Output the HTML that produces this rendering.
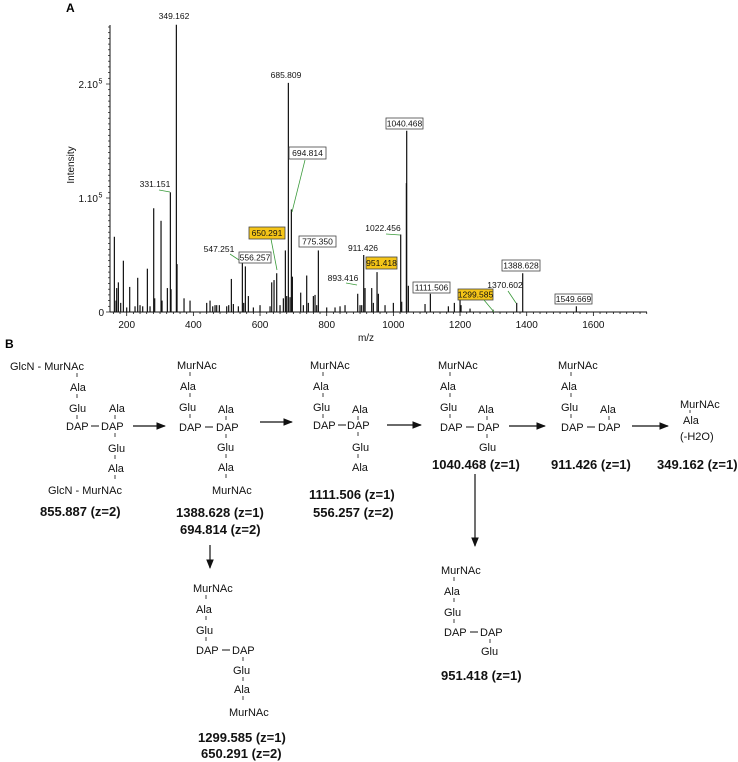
<!DOCTYPE html>
<html><head><meta charset="utf-8"><style>
html,body{margin:0;padding:0;background:#fff}
svg{display:block;font-family:"Liberation Sans",Arial,sans-serif}
.s{font-size:11px;fill:#111}
.b{font-size:13px;font-weight:bold;fill:#111}
.l{font-size:8.5px;fill:#111}
.t{font-size:10px;fill:#111}
</style></head><body>
<svg id="fig" width="738" height="762" viewBox="0 0 738 762">
<text x="66" y="12" font-weight="bold" font-size="12">A</text>
<g id="chart"></g>
<g id="ann">
<text class="l" x="174" y="19" text-anchor="middle">349.162</text>
<text class="l" x="286" y="78" text-anchor="middle">685.809</text>
<rect x="289" y="147" width="37" height="12" fill="#fff" stroke="#444" stroke-width="0.8"/><text class="l" x="307.5" y="156" text-anchor="middle">694.814</text>
<polyline points="305,160 292,212" fill="none" stroke="#3a9a3a" stroke-width="0.8"/>
<text class="l" x="155" y="187" text-anchor="middle">331.151</text>
<polyline points="159,190 170,192" fill="none" stroke="#3a9a3a" stroke-width="0.8"/>
<rect x="249" y="227" width="36" height="12" fill="#f5c518" stroke="#444" stroke-width="0.8"/><text class="l" x="267" y="236" text-anchor="middle">650.291</text>
<polyline points="271,239 277,270" fill="none" stroke="#3a9a3a" stroke-width="0.8"/>
<text class="l" x="219" y="252" text-anchor="middle">547.251</text>
<polyline points="230,254 242,262" fill="none" stroke="#3a9a3a" stroke-width="0.8"/>
<rect x="239" y="252" width="32" height="11" fill="#fff" stroke="#444" stroke-width="0.8"/><text class="l" x="255" y="260.5" text-anchor="middle">556.257</text>
<rect x="299" y="236" width="37" height="11" fill="#fff" stroke="#444" stroke-width="0.8"/><text class="l" x="317.5" y="244.5" text-anchor="middle">775.350</text>
<text class="l" x="363" y="251" text-anchor="middle">911.426</text>
<text class="l" x="343" y="281" text-anchor="middle">893.416</text>
<polyline points="346,283 357,285" fill="none" stroke="#3a9a3a" stroke-width="0.8"/>
<rect x="366" y="257" width="31" height="12" fill="#f5c518" stroke="#444" stroke-width="0.8"/><text class="l" x="381.5" y="266" text-anchor="middle">951.418</text>
<text class="l" x="383" y="231" text-anchor="middle">1022.456</text>
<polyline points="386,234 400,235" fill="none" stroke="#3a9a3a" stroke-width="0.8"/>
<rect x="386" y="118" width="37" height="11" fill="#fff" stroke="#444" stroke-width="0.8"/><text class="l" x="404.5" y="126.5" text-anchor="middle">1040.468</text>
<rect x="413" y="282" width="37" height="11" fill="#fff" stroke="#444" stroke-width="0.8"/><text class="l" x="431.5" y="290.5" text-anchor="middle">1111.506</text>
<rect x="458" y="289" width="35" height="11" fill="#f5c518" stroke="#444" stroke-width="0.8"/><text class="l" x="475.5" y="297.5" text-anchor="middle">1299.585</text>
<polyline points="484,300 494,312" fill="none" stroke="#3a9a3a" stroke-width="0.8"/>
<text class="l" x="505" y="288" text-anchor="middle">1370.602</text>
<polyline points="508,291 516,303" fill="none" stroke="#3a9a3a" stroke-width="0.8"/>
<rect x="502" y="260" width="38" height="11" fill="#fff" stroke="#444" stroke-width="0.8"/><text class="l" x="521" y="268.5" text-anchor="middle">1388.628</text>
<rect x="555" y="294" width="37" height="10" fill="#fff" stroke="#444" stroke-width="0.8"/><text class="l" x="573.5" y="302" text-anchor="middle">1549.669</text>
</g>
<text x="5" y="348" font-weight="bold" font-size="12">B</text>
<g id="schemes"></g>
<defs><marker id="ah" viewBox="0 0 10 10" refX="9" refY="5" markerWidth="8" markerHeight="8" orient="auto"><path d="M0,1 L10,5 L0,9 z" fill="#111"/></marker></defs>
</svg>
<script>
// chart data
const mzValues = [163,168,170,175,182,190,200,209,225,233,240,248,262,270,281,284,303,306,322,331,333,349,351,372,390,440,450,458,465,470,478,500,506,514,520,535,547,551,556,565,580,600,630,635,642,650,660,670,676,680,685,690,694,697,722,730,740,745,760,765,770,775,800,825,840,855,893,900,905,911,915,935,940,951,955,975,1000,1022,1025,1039,1040,1045,1095,1111,1165,1183,1200,1203,1230,1299,1370,1388,1549];
const intensities = [6.6,1.0,2.1,2.6,0.8,4.5,0.4,2.2,0.5,3.0,0.6,0.5,3.8,0.5,9.1,1.2,8.0,1.0,2.1,10.5,2.0,25.2,4.2,1.2,1.0,0.8,1.0,0.5,0.6,0.6,0.6,0.5,0.6,2.9,0.7,0.5,4.3,0.8,4.0,1.4,0.4,0.6,0.5,2.6,2.8,3.4,0.6,1.2,5.4,1.4,20.1,1.3,9.0,3.1,1.7,0.6,3.2,0.8,1.4,1.5,0.6,5.4,0.4,0.4,0.5,0.6,1.6,0.6,0.6,5.0,2.1,2.1,0.8,3.5,1.6,0.6,0.8,6.8,0.9,11.3,15.9,2.3,0.7,1.6,0.5,0.8,1.5,0.6,0.3,0.2,0.8,3.4,0.5];
const xTickValues = [200,400,600,800,1000,1200,1400,1600];
const yTickValues = [0,10,20];
const yTickLabels = ["0","1.10","2.10"];

const NS="http://www.w3.org/2000/svg";
const X0=110,X1=647,YB=312,YT=25;
function xs(m){return 126.7+(m-200)*(1/3);}
function ys(v){return YB-v*11.4;}
function mk(tag,attrs,parent){const e=document.createElementNS(NS,tag);for(const k in attrs)e.setAttribute(k,attrs[k]);parent.appendChild(e);return e;}
const chart=document.getElementById('chart');
mzValues.forEach((m,i)=>{
  const ln=mk('line',{x1:xs(m),x2:xs(m),y1:YB,y2:ys(intensities[i]),stroke:'#111','stroke-width':1.2},chart);
  
  
});
const xa=mk('line',{x1:X0,x2:X1,y1:YB,y2:YB,stroke:'#111','stroke-width':1},chart);


const ya=mk('line',{x1:X0,x2:X0,y1:YT,y2:YB,stroke:'#111','stroke-width':1},chart);


for(let m=160;m<=1760;m+=20){const maj=m%200===0;mk('line',{x1:xs(m),x2:xs(m),y1:YB,y2:YB+(maj?4:2),stroke:'#111','stroke-width':0.8},chart);}
for(let v=0;v<=25;v+=0.5){const maj=v%10===0;mk('line',{x1:X0,x2:X0-(maj?4:2),y1:ys(v),y2:ys(v),stroke:'#111','stroke-width':0.7},chart);}
xTickValues.forEach(m=>{const t=mk('text',{x:xs(m),y:YB+16,'text-anchor':'middle',class:'t'},chart);t.textContent=m;
  
  });
yTickValues.forEach((v,i)=>{const t=mk('text',{x:v===0?X0-6:X0-12,y:ys(v)+4,'text-anchor':'end',class:'t'},chart);t.textContent=yTickLabels[i];
  
  
  if(v!==0){const s=mk('text',{x:X0-11.5,y:ys(v)-0.5,'font-size':'7px'},chart);s.textContent='5';}});
const yt=mk('text',{x:0,y:0,class:'t',transform:'translate(74,165) rotate(-90)','text-anchor':'middle'},chart);yt.textContent='Intensity';


const xt=mk('text',{x:366,y:341,class:'t','text-anchor':'middle'},chart);xt.textContent='m/z';



// schemes
const sc=document.getElementById('schemes');
function tx(x,y,s,cls){const t=mk('text',{x:x,y:y+4,class:cls||'s'},sc);t.textContent=s;return t;}
function vt(x,y1,y2){mk('line',{x1:x,x2:x,y1:y1,y2:y2,stroke:'#111','stroke-width':0.8},sc);}
function dash(x1,x2,y){mk('line',{x1:x1,x2:x2,y1:y,y2:y,stroke:'#111','stroke-width':1},sc);}
function arrow(x1,y1,x2,y2){mk('line',{x1:x1,y1:y1,x2:x2,y2:y2,stroke:'#111','stroke-width':1.2,'marker-end':'url(#ah)'},sc);}
// Struct 1
tx(10,366,'GlcN - MurNAc');vt(77,373,377);tx(70,387,'Ala');vt(77,394,398);tx(69,408,'Glu');vt(77,415,419);
tx(109,408,'Ala');vt(115,415,419);tx(66,426,'DAP');dash(91,99,426);tx(101,426,'DAP');
vt(115,433,437);tx(108,448,'Glu');vt(115,455,459);tx(108,468,'Ala');vt(115,475,479);tx(48,490,'GlcN - MurNAc');
tx(40,512,'855.887 (z=2)','b');
arrow(133,426,165,426);
// Struct 2
tx(177,365,'MurNAc');vt(190,372,376);tx(180,386,'Ala');vt(190,393,397);tx(179,407,'Glu');vt(190,414,418);
tx(218,409,'Ala');vt(226,416,420);tx(179,427,'DAP');dash(205,213,427);tx(216,427,'DAP');
vt(226,434,438);tx(217,447,'Glu');vt(226,454,458);tx(218,467,'Ala');vt(226,474,478);tx(212,490,'MurNAc');
tx(176,513,'1388.628 (z=1)','b');tx(180,530,'694.814 (z=2)','b');
arrow(210,545,210,568);
arrow(260,422,292,422);
// Struct 3
tx(310,365,'MurNAc');vt(323,372,376);tx(313,386,'Ala');vt(323,393,397);tx(313,407,'Glu');vt(323,414,418);
tx(352,409,'Ala');vt(358,416,420);tx(313,425,'DAP');dash(338,346,425);tx(347,425,'DAP');
vt(358,432,436);tx(352,447,'Glu');vt(358,454,458);tx(352,467,'Ala');
tx(309,495,'1111.506 (z=1)','b');tx(313,513,'556.257 (z=2)','b');
arrow(387,425,421,425);
// Struct 4
tx(438,365,'MurNAc');vt(450,372,376);tx(440,386,'Ala');vt(450,393,397);tx(440,407,'Glu');vt(450,414,418);
tx(478,409,'Ala');vt(487,416,420);tx(440,427,'DAP');dash(466,474,427);tx(477,427,'DAP');
vt(487,434,438);tx(479,447,'Glu');
tx(432,465,'1040.468 (z=1)','b');
arrow(475,474,475,546);
arrow(509,426,545,426);
// Struct 5
tx(558,365,'MurNAc');vt(571,372,376);tx(561,386,'Ala');vt(571,393,397);tx(561,407,'Glu');vt(571,414,418);
tx(600,409,'Ala');vt(609,416,420);tx(561,427,'DAP');dash(587,595,427);tx(598,427,'DAP');
tx(551,465,'911.426 (z=1)','b');
arrow(632,426,668,426);
// Struct 6
tx(680,404,'MurNAc');vt(690,410,413);tx(683,420,'Ala');tx(680,436,'(-H2O)');
tx(657,465,'349.162 (z=1)','b');
// Lower left
tx(193,588,'MurNAc');vt(206,595,599);tx(196,609,'Ala');vt(206,616,620);tx(196,630,'Glu');vt(206,637,641);
tx(196,650,'DAP');dash(222,230,650);tx(232,650,'DAP');vt(243,657,661);tx(233,670,'Glu');vt(243,677,681);
tx(234,689,'Ala');vt(243,696,700);tx(229,712,'MurNAc');
tx(198,738,'1299.585 (z=1)','b');tx(201,754,'650.291 (z=2)','b');
// Lower right
tx(441,570,'MurNAc');vt(454,577,581);tx(444,591,'Ala');vt(454,598,602);tx(444,612,'Glu');vt(454,619,623);
tx(444,632,'DAP');dash(470,478,632);tx(480,632,'DAP');vt(490,639,643);tx(481,651,'Glu');
tx(441,676,'951.418 (z=1)','b');
</script>
</body></html>
